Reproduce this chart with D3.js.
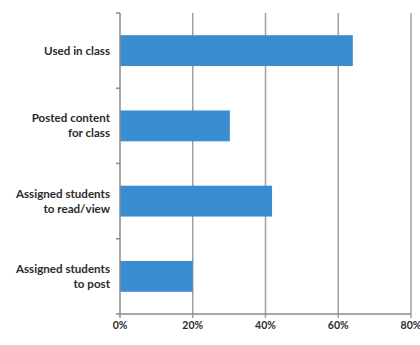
<!DOCTYPE html>
<html><head><meta charset="utf-8">
<script src="https://cdn.jsdelivr.net/npm/d3@7"></script>
<style>
html,body{margin:0;padding:0;background:#fff;overflow:hidden}
text{font-family:Lato,"Open Sans",sans-serif;font-weight:bold;fill:#2b2b2b}
</style></head>
<body><svg id="c" width="420" height="345"></svg>
<script>
const categories = [["Used in class"], ["Posted content","for class"], ["Assigned students","to read/view"], ["Assigned students","to post"]];
const values = [64, 30.2, 41.8, 20];
const xTicks = [0, 20, 40, 60, 80];
const tickLabels = ["0%", "20%", "40%", "60%", "80%"];

(function(){
const svg = d3.select("#c");
const mLeft = 120, mRight = 411, mTop = 13, mBottom = 314;
const x = d3.scaleLinear().domain([0, 80]).range([mLeft, mRight]);
const y = d3.scaleBand().domain(d3.range(categories.length)).range([mTop, mBottom]).paddingInner(0.59).paddingOuter(0.295);

svg.append("g").selectAll("line").data(xTicks.slice(1)).join("line")
  .attr("x1", d => x(d)).attr("x2", d => x(d)).attr("y1", mTop).attr("y2", mBottom + 4)
  .attr("stroke", "#a0a0a0").attr("stroke-width", 1.5);

svg.append("g").selectAll("rect").data(values).join("rect")
  .attr("x", x(0)).attr("y", (d, i) => y(i)).attr("width", d => x(d) - x(0)).attr("height", y.bandwidth())
  .attr("fill", "#3a8dd0");

const yBoundaries = d3.range(categories.length + 1).map(i => mTop + i * (mBottom - mTop) / categories.length);
svg.append("line").attr("x1", mLeft).attr("x2", mLeft).attr("y1", mTop).attr("y2", mBottom)
  .attr("stroke", "#8a8a8a").attr("stroke-width", 1.5);
svg.append("g").selectAll("line").data(yBoundaries).join("line")
  .attr("x1", mLeft - 4).attr("x2", mLeft).attr("y1", d => d).attr("y2", d => d)
  .attr("stroke", "#8a8a8a").attr("stroke-width", 1.5);
svg.append("line").attr("x1", mLeft).attr("x2", mRight).attr("y1", mBottom).attr("y2", mBottom)
  .attr("stroke", "#8a8a8a").attr("stroke-width", 1.5);
svg.append("line").attr("x1", mLeft).attr("x2", mLeft).attr("y1", mBottom).attr("y2", mBottom + 4)
  .attr("stroke", "#8a8a8a").attr("stroke-width", 1.5);

svg.append("g").selectAll("text").data(xTicks).join("text")
  .attr("x", d => x(d)).attr("y", 329).attr("text-anchor", "middle")
  .style("font-size", "10.5px").text((d, i) => tickLabels[i]);

const lh = 15;
svg.append("g").selectAll("text").data(categories).join("text")
  .attr("text-anchor", "end").style("font-size", "11.6px")
  .each(function(lines, i) {
    const cy = y(i) + y.bandwidth() / 2;
    const t = d3.select(this);
    const y0 = cy - (lines.length - 1) * lh / 2 + 4;
    lines.forEach((l, j) => t.append("tspan").attr("x", 110).attr("y", y0 + j * lh).text(l));
  });
})();
</script></body></html>
